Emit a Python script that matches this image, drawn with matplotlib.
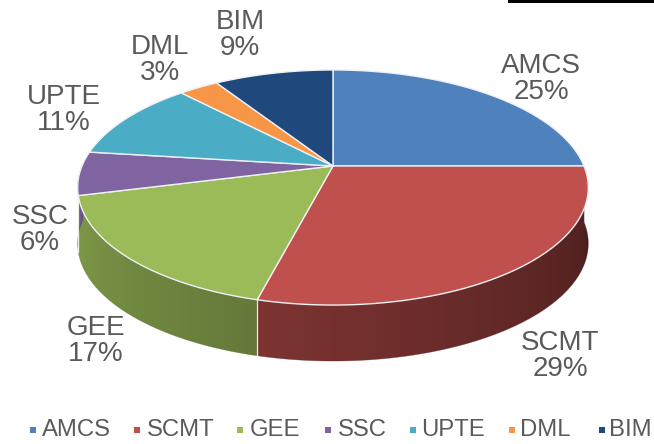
import numpy as np
import matplotlib
matplotlib.use("Agg")
import matplotlib.pyplot as plt
from matplotlib.patches import Polygon, Rectangle
from matplotlib.colors import to_rgb

plt.rcParams['font.family'] = ['Liberation Sans', 'DejaVu Sans']

categories = ["AMCS", "SCMT", "GEE", "SSC", "UPTE", "DML", "BIM"]
values = [25, 29, 17, 6, 11, 3, 9]
colors = ["#4F81BD", "#C0504D", "#9BBB59", "#8064A2", "#4BACC6", "#F79646", "#1F497D"]
pct_labels = ["25%", "29%", "17%", "6%", "11%", "3%", "9%"]

W, H = 654, 444
fig = plt.figure(figsize=(W / 100, H / 100), dpi=100)
ax = fig.add_axes([0, 0, 1, 1])
ax.set_xlim(0, W)
ax.set_ylim(H, 0)
ax.axis("off")

# perspective projection of the pie disc (pixel-like data coords)
cx, cy = 333, 166
A, B, k = 251, 113.6, 0.183
depth = 56


def proj(phi_deg):
    p = np.radians(phi_deg)
    u, v = np.cos(p), np.sin(p)
    d = 1 + k * v
    return cx + A * u / d, cy - B * v / d


def shade_factor(phi):
    ph = (np.asarray(phi) + 360) % 360
    t = np.where(ph >= 180, (360 - ph) / 180.0, 1.0)
    return 0.36 + 0.5 * t


total = float(sum(values))
start = 90.0
wedges = []
for cat, val, col in zip(categories, values, colors):
    span = 360.0 * val / total
    wedges.append((start, start - span, col))
    start -= span

# sides (only front half is visible), drawn with a horizontal gradient
for a0, a1, col in wedges:
    lo, hi = min(a0, a1), max(a0, a1)
    phis = np.linspace(lo, hi, 300)
    vis = np.sin(np.radians(phis)) < 0.02
    if vis.sum() < 2:
        continue
    phis = phis[vis]
    xs, ys = proj(phis)
    pts = list(zip(xs, ys)) + list(zip(xs[::-1], ys[::-1] + depth))
    poly = Polygon(pts, closed=True, facecolor="none", edgecolor="none")
    ax.add_patch(poly)
    order = np.argsort(xs)
    xgrid = np.linspace(xs.min(), xs.max(), 200)
    fgrid = np.interp(xgrid, xs[order], shade_factor(phis[order]))
    base = np.array(to_rgb(col))
    img = (fgrid[:, None] * base[None, :])[None, :, :]
    im = ax.imshow(img, extent=(xs.min() - 1, xs.max() + 1, ys.max() + depth + 1, ys.min() - 1),
                   aspect="auto", interpolation="bilinear", zorder=1)
    im.set_clip_path(poly)
    ax.add_patch(Polygon(pts, closed=True, facecolor="none", edgecolor=tuple(base * 0.5),
                         linewidth=0.4, alpha=0.5, zorder=1.1))

# vertical seams on visible side at slice boundaries
for a0, a1, col in wedges:
    pa = ((a0 + 360) % 360)
    if 185 < pa < 355:
        x, y = proj(a0)
        ax.plot([x, x], [y, y + depth], color="#f2efe6", lw=0.9, zorder=1.5)

# top faces
for a0, a1, col in wedges:
    phis = np.linspace(a0, a1, 200)
    xs, ys = proj(phis)
    pts = [(cx, cy)] + list(zip(xs, ys))
    ax.add_patch(Polygon(pts, closed=True, facecolor=col, edgecolor="#eef0f4",
                         linewidth=1.0, joinstyle="round", zorder=2))

# data labels
label_pos = {
    "AMCS": (541, 79),
    "SCMT": (560, 356),
    "GEE": (96, 341),
    "SSC": (40, 230),
    "UPTE": (64, 110),
    "DML": (160, 60),
    "BIM": (240, 35),
}
for cat, pl in zip(categories, pct_labels):
    x, y = label_pos[cat]
    ax.text(x, y, f"{cat}\n{pl}", ha="center", va="center", fontsize=20,
            color="#5a5a5a", linespacing=1.0, zorder=3)

# legend
leg_marker_x = [33, 137, 240, 328, 413, 512, 602]
leg_text_x = [42, 147, 250, 338, 421, 520, 609]
for cat, col, mx, tx in zip(categories, colors, leg_marker_x, leg_text_x):
    ax.scatter([mx], [430], marker="s", s=16, color=col, linewidths=0, zorder=3)
    ax.text(tx, 430, cat, ha="left", va="center", fontsize=17.2, color="#5a5a5a", zorder=3)

# black bar top-right
ax.add_patch(Rectangle((508, -2), 150, 5, facecolor="black", edgecolor="none"))

fig.savefig("out.png", dpi=100)
